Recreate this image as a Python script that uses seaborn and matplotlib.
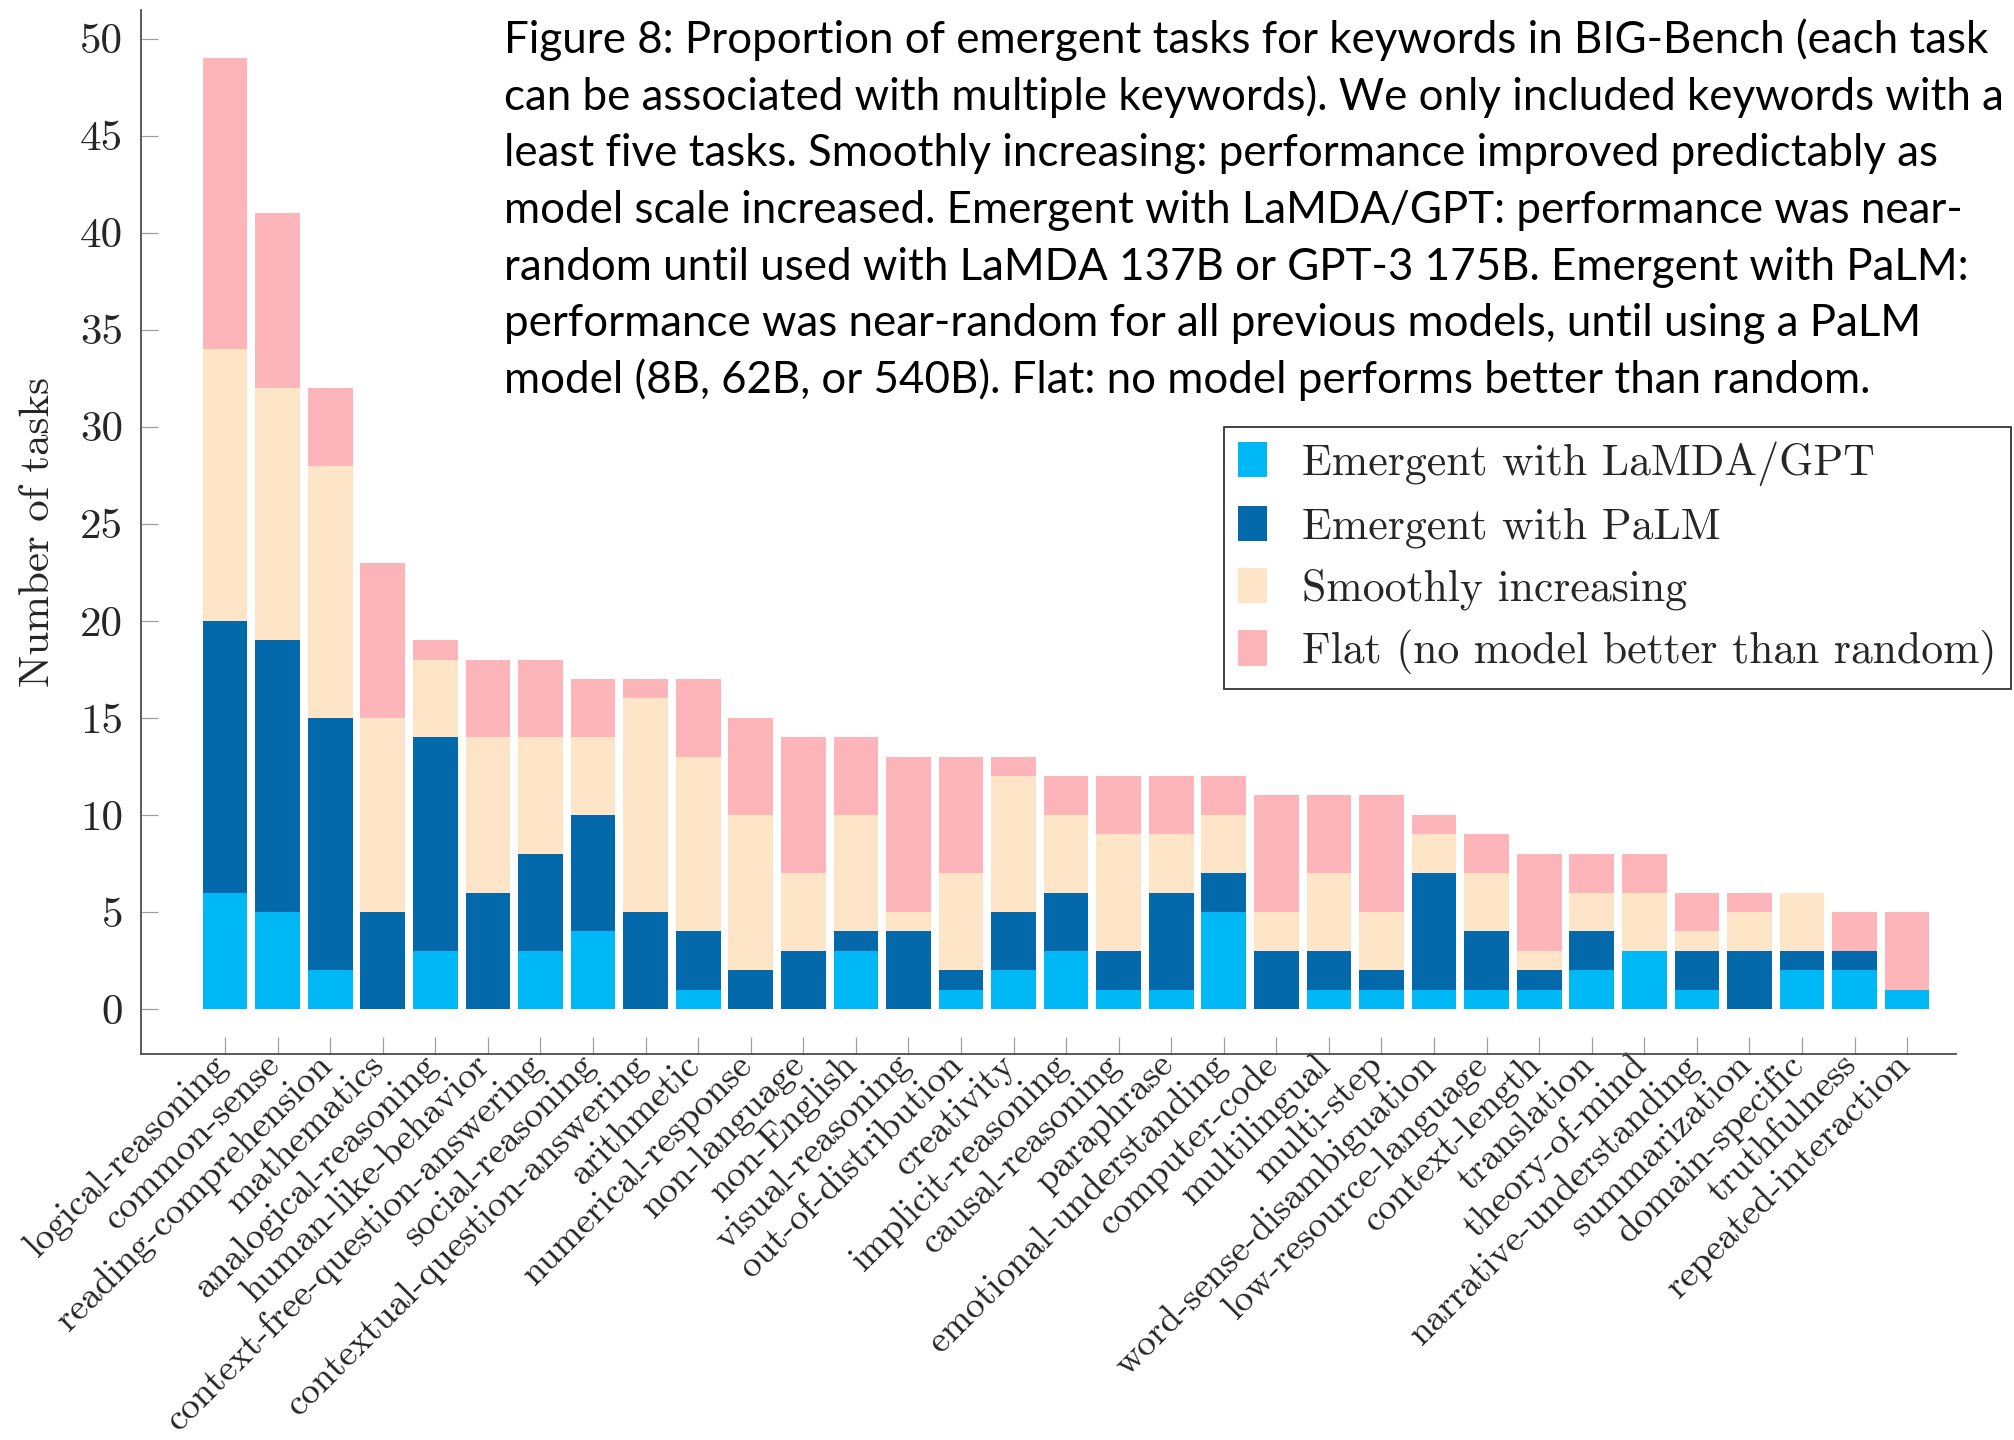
import numpy as np
import pandas as pd
import matplotlib
matplotlib.use("Agg")
import matplotlib.pyplot as plt
import matplotlib.transforms as mtransforms
import seaborn as sns
from matplotlib.patches import Patch

# keywords in BIG-Bench, sorted by total number of tasks
keywords = [
    "logical-reasoning", "common-sense", "reading-comprehension", "mathematics",
    "analogical-reasoning", "human-like-behavior", "context-free-question-answering",
    "social-reasoning", "contextual-question-answering", "arithmetic",
    "numerical-response", "non-language", "non-English", "visual-reasoning",
    "out-of-distribution", "creativity", "implicit-reasoning", "causal-reasoning",
    "paraphrase", "emotional-understanding", "computer-code", "multilingual",
    "multi-step", "word-sense-disambiguation", "low-resource-language",
    "context-length", "translation", "theory-of-mind", "narrative-understanding",
    "summarization", "domain-specific", "truthfulness", "repeated-interaction",
]

# number of tasks per category (stack order bottom -> top)
emergent_lamda = [6, 5, 2, 0, 3, 0, 3, 4, 0, 1, 0, 0, 3, 0, 1, 2, 3, 1, 1, 5,
                  0, 1, 1, 1, 1, 1, 2, 3, 1, 0, 2, 2, 1]
emergent_palm = [14, 14, 13, 5, 11, 6, 5, 6, 5, 3, 2, 3, 1, 4, 1, 3, 3, 2, 5, 2,
                 3, 2, 1, 6, 3, 1, 2, 0, 2, 3, 1, 1, 0]
smoothly = [14, 13, 13, 10, 4, 8, 6, 4, 11, 9, 8, 4, 6, 1, 5, 7, 4, 6, 3, 3,
            2, 4, 3, 2, 3, 1, 2, 3, 1, 2, 3, 0, 0]
flat = [15, 9, 4, 8, 1, 4, 4, 3, 1, 4, 5, 7, 4, 8, 6, 1, 2, 3, 3, 2,
        6, 4, 6, 1, 2, 5, 2, 2, 2, 1, 0, 2, 4]

series_names = ["Emergent with LaMDA/GPT", "Emergent with PaLM",
                "Smoothly increasing", "Flat (no model better than random)"]
series_colors = ["#00B8F5", "#0369AA", "#FEE5C7", "#FDB5B9"]

caption_lines = [
    "Figure 8: Proportion of emergent tasks for keywords in BIG-Bench (each task",
    "can be associated with multiple keywords). We only included keywords with a",
    "least five tasks. Smoothly increasing: performance improved predictably as",
    "model scale increased. Emergent with LaMDA/GPT: performance was near-",
    "random until used with LaMDA 137B or GPT-3 175B. Emergent with PaLM:",
    "performance was near-random for all previous models, until using a PaLM",
    "model (8B, 62B, or 540B). Flat: no model performs better than random.",
]


def main():
    sns.set_theme(style="ticks")
    plt.rcParams["font.family"] = "cmr10"

    df = pd.DataFrame({
        "keyword": keywords,
        "lamda": emergent_lamda,
        "palm": emergent_palm,
        "smooth": smoothly,
        "flat": flat,
    })
    layers = ["lamda", "palm", "smooth", "flat"]
    cum = df[layers].cumsum(axis=1)
    cum["keyword"] = df["keyword"]

    W, H = 2015, 1440
    fig = plt.figure(figsize=(W / 100, H / 100), dpi=100)
    ax = fig.add_axes([141 / W, 1 - 1054 / H, (1956 - 141) / W, (1054 - 10) / H])

    # stacked bars: draw cumulative totals from the top layer down
    for col, color in reversed(list(zip(layers, series_colors))):
        sns.barplot(data=cum, x="keyword", y=col, order=keywords, color=color,
                    saturation=1, width=0.85, linewidth=0, errorbar=None, ax=ax)

    ax.set_xlim(-1.6, 32.93)
    ax.set_ylim(-2.32, 51.47)

    for s in ["top", "right"]:
        ax.spines[s].set_visible(False)
    for s in ["left", "bottom"]:
        ax.spines[s].set_color("#4d4d4d")
        ax.spines[s].set_linewidth(1.3)

    ax.set_yticks(range(0, 51, 5))
    ax.set_yticklabels([str(v) for v in range(0, 51, 5)], fontsize=31)
    ax.set_xticks(range(len(keywords)))
    ax.set_xticklabels(keywords, rotation=45, ha="right", va="top",
                       rotation_mode="anchor", fontsize=27)
    ax.tick_params(axis="both", direction="in", color="#a0a0a0", width=0.9,
                   length=12.5)
    ax.tick_params(axis="y", pad=13)
    ax.tick_params(axis="x", pad=5)
    # nudge rotated labels up-left so they end just under each tick
    shift = mtransforms.ScaledTranslation(-0.15, 0.13, fig.dpi_scale_trans)
    for lbl in ax.get_xticklabels():
        lbl.set_transform(lbl.get_transform() + shift)

    ax.set_xlabel("")
    ax.set_ylabel("Number of tasks", fontsize=31, va="center")
    ax.yaxis.set_label_coords((38 - 141) / (1956 - 141), 0.5)

    handles = [Patch(facecolor=c, edgecolor="none") for c in series_colors]
    leg = fig.legend(handles, series_names, loc="upper left",
                     bbox_to_anchor=(1224 / W, 1 - 427 / H),
                     bbox_transform=fig.transFigure, fontsize=31.5,
                     frameon=True, fancybox=False, framealpha=1,
                     edgecolor="#333333", handlelength=0.65, handleheight=0.86,
                     handletextpad=0.81, labelspacing=0.45, borderpad=0.33,
                     borderaxespad=0)
    leg.get_frame().set_linewidth(1.3)

    # caption block, sized so the first line spans the same width
    renderer = fig.canvas.get_renderer()
    probe = fig.text(0, 0, caption_lines[0], fontfamily="Lato", fontsize=28)
    w = probe.get_window_extent(renderer).width
    probe.remove()
    fs = 28 * 1484 / w
    for i, line in enumerate(caption_lines):
        fig.text(504 / W, 1 - (53 + 56.7 * i) / H, line, fontfamily="Lato",
                 fontsize=fs, ha="left", va="baseline", color="black")

    fig.savefig("out.png", dpi=100)


if __name__ == "__main__":
    main()
